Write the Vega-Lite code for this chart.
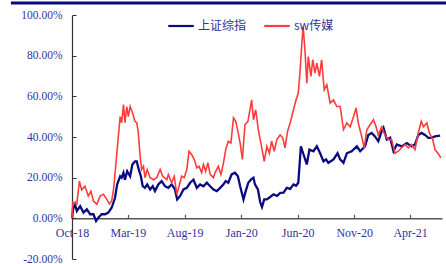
{
  "$schema": "https://vega.github.io/schema/vega-lite/v6.json",
  "width": 370,
  "height": 244,
  "autosize": {"type": "none"},
  "padding": {"left": 72, "top": 15, "right": 4, "bottom": 5},
  "background": "white",
  "config": {"view": {"stroke": null}},
  "layer": [
    {
      "data": {"values": [{}]},
      "mark": {"type": "rule", "color": "#0A0A80", "strokeWidth": 3, "clip": false},
      "encoding": {
        "x": {"datum": {"year": 2018, "month": 4, "date": 19}, "type": "temporal", "scale": {"domain": [{"year": 2018, "month": 10, "date": 1}, {"year": 2021, "month": 6, "date": 26}]}},
        "x2": {"datum": {"year": 2021, "month": 7, "date": 8}},
        "y": {"datum": 105.9, "type": "quantitative", "scale": {"domain": [-20, 100], "nice": false}}
      }
    },
    {
      "data": {
        "values": [
          {"date":"2018-10-01","value":0},{"date":"2018-10-04","value":4.5},{"date":"2018-10-09","value":6.9},{"date":"2018-10-14","value":3.6},{"date":"2018-10-23","value":6.0},{"date":"2018-11-01","value":2.8},{"date":"2018-11-10","value":4.4},{"date":"2018-11-19","value":2.0},{"date":"2018-11-28","value":2.0},{"date":"2018-12-05","value":-1.3},{"date":"2018-12-11","value":0.3},{"date":"2018-12-20","value":2.0},{"date":"2018-12-29","value":2.0},
          {"date":"2019-01-07","value":2.8},{"date":"2019-01-16","value":5.2},{"date":"2019-01-25","value":10},{"date":"2019-01-31","value":16.7},{"date":"2019-02-08","value":20.7},{"date":"2019-02-12","value":20},{"date":"2019-02-17","value":22.4},{"date":"2019-02-21","value":19},{"date":"2019-02-27","value":23.2},{"date":"2019-03-07","value":20.7},{"date":"2019-03-13","value":26.5},{"date":"2019-03-20","value":28},{"date":"2019-03-25","value":28},{"date":"2019-03-29","value":24.8},{"date":"2019-04-05","value":20.7},{"date":"2019-04-10","value":15.8},{"date":"2019-04-16","value":15},{"date":"2019-04-22","value":16.7},{"date":"2019-04-30","value":14.2},{"date":"2019-05-07","value":15.8},{"date":"2019-05-13","value":13.4},{"date":"2019-05-22","value":16.7},{"date":"2019-05-31","value":18.3},{"date":"2019-06-09","value":15.8},{"date":"2019-06-18","value":15},{"date":"2019-06-27","value":16.7},{"date":"2019-07-06","value":14.2},{"date":"2019-07-12","value":9.3},{"date":"2019-07-20","value":11},{"date":"2019-07-29","value":14.2},{"date":"2019-08-07","value":15},{"date":"2019-08-16","value":17.5},{"date":"2019-08-25","value":19},{"date":"2019-09-03","value":15},{"date":"2019-09-12","value":16.7},{"date":"2019-09-21","value":15.8},{"date":"2019-09-30","value":17.5},{"date":"2019-10-09","value":15.8},{"date":"2019-10-18","value":14.2},{"date":"2019-10-27","value":13.4},{"date":"2019-11-05","value":15},{"date":"2019-11-14","value":16.7},{"date":"2019-11-20","value":18.3},{"date":"2019-11-27","value":17.5},{"date":"2019-12-06","value":21.6},{"date":"2019-12-15","value":22.4},{"date":"2019-12-23","value":20.7},{"date":"2019-12-29","value":15.8},
          {"date":"2020-01-07","value":9.3},{"date":"2020-01-13","value":13.4},{"date":"2020-01-20","value":17.5},{"date":"2020-01-27","value":19},{"date":"2020-02-03","value":20},{"date":"2020-02-07","value":16.7},{"date":"2020-02-15","value":14.2},{"date":"2020-02-21","value":8},{"date":"2020-02-26","value":5.5},{"date":"2020-03-03","value":9.3},{"date":"2020-03-10","value":9.3},{"date":"2020-03-19","value":10.5},{"date":"2020-03-28","value":11.8},{"date":"2020-04-07","value":11},{"date":"2020-04-15","value":12.5},{"date":"2020-04-24","value":12.6},{"date":"2020-05-03","value":15},{"date":"2020-05-12","value":14.5},{"date":"2020-05-21","value":16.7},{"date":"2020-05-28","value":16},{"date":"2020-06-03","value":17.5},{"date":"2020-06-10","value":35.4},{"date":"2020-06-16","value":32},{"date":"2020-06-26","value":26.5},{"date":"2020-07-03","value":33.8},{"date":"2020-07-14","value":33},{"date":"2020-07-23","value":35.4},{"date":"2020-08-01","value":32},{"date":"2020-08-10","value":28},{"date":"2020-08-17","value":29},{"date":"2020-08-23","value":27.3},{"date":"2020-09-06","value":29},{"date":"2020-09-17","value":32},{"date":"2020-09-24","value":29},{"date":"2020-10-03","value":27.3},{"date":"2020-10-12","value":32},{"date":"2020-10-25","value":33},{"date":"2020-11-08","value":35.4},{"date":"2020-11-17","value":33},{"date":"2020-11-30","value":35.4},{"date":"2020-12-09","value":41},{"date":"2020-12-18","value":42},{"date":"2020-12-27","value":40.3},
          {"date":"2021-01-05","value":37.9},{"date":"2021-01-14","value":42.8},{"date":"2021-01-19","value":44.5},{"date":"2021-01-28","value":38.7},{"date":"2021-02-06","value":39.6},{"date":"2021-02-15","value":33},{"date":"2021-02-24","value":36.3},{"date":"2021-03-09","value":35.4},{"date":"2021-03-23","value":37},{"date":"2021-04-05","value":35.4},{"date":"2021-04-14","value":36.3},{"date":"2021-04-23","value":41},{"date":"2021-05-02","value":42},{"date":"2021-05-11","value":41},{"date":"2021-05-20","value":39.6},{"date":"2021-05-29","value":39.6},{"date":"2021-06-07","value":40.3},{"date":"2021-06-21","value":40.7}
        ],
        "format": {"parse": {"date": "date:'%Y-%m-%d'"}}
      },
      "mark": {"type": "line", "strokeWidth": 2.3, "interpolate": "linear"},
      "encoding": {
        "x": {
          "field": "date", "type": "temporal",
          "scale": {"domain": [{"year": 2018, "month": 10, "date": 1}, {"year": 2021, "month": 6, "date": 26}]},
          "axis": {
            "title": null, "grid": false, "offset": -40.67,
            "values": [{"year": 2018, "month": 10, "date": 1}, {"year": 2019, "month": 3, "date": 1}, {"year": 2019, "month": 8, "date": 1}, {"year": 2020, "month": 1, "date": 1}, {"year": 2020, "month": 6, "date": 1}, {"year": 2020, "month": 11, "date": 1}, {"year": 2021, "month": 4, "date": 1}],
            "format": "%b-%y", "labelFlush": false, "labelOverlap": false,
            "domainColor": "#555555", "domainWidth": 1.5, "tickColor": "#555555", "tickSize": -4, "tickWidth": 1.2,
            "labelColor": "#333399", "labelFont": "Liberation Serif", "labelFontSize": 12, "labelPadding": 13
          }
        },
        "y": {
          "field": "value", "type": "quantitative",
          "scale": {"domain": [-20, 100], "nice": false},
          "axis": {
            "title": null, "grid": false,
            "values": [-20, 0, 20, 40, 60, 80, 100],
            "labelExpr": "replace(format(datum.value, '.2f'), '\u2212', '-') + '%'",
            "domainColor": "#333333", "domainWidth": 1.2, "tickColor": "#333333", "tickSize": -4,
            "labelColor": "#333399", "labelFont": "Liberation Serif", "labelFontSize": 11.5, "labelPadding": 14
          }
        },
        "color": {
          "datum": "上证综指",
          "scale": {"domain": ["上证综指", "sw传媒"], "range": ["#0B0B80", "#FF3B3B"]},
          "legend": {
            "title": null, "orient": "none", "direction": "horizontal", "legendX": 95, "legendY": -3,
            "symbolType": "stroke", "symbolSize": 650, "symbolStrokeWidth": 2.2,
            "labelFont": "Noto Sans CJK SC", "labelFontSize": 12, "labelColor": "#333399", "labelOffset": 3,
            "columnPadding": 12, "padding": 0
          }
        }
      }
    },
    {
      "data": {
        "values": [
          {"date":"2018-10-01","value":0},{"date":"2018-10-03","value":7.8},{"date":"2018-10-14","value":7},{"date":"2018-10-21","value":18.3},{"date":"2018-10-27","value":14},{"date":"2018-11-05","value":15.8},{"date":"2018-11-14","value":11},{"date":"2018-11-21","value":13.4},{"date":"2018-11-28","value":8.5},{"date":"2018-12-07","value":6.9},{"date":"2018-12-16","value":11},{"date":"2018-12-25","value":11.8},
          {"date":"2019-01-03","value":9.3},{"date":"2019-01-10","value":7},{"date":"2019-01-16","value":8.5},{"date":"2019-01-21","value":14},{"date":"2019-01-27","value":25.6},{"date":"2019-02-03","value":40},{"date":"2019-02-08","value":50},{"date":"2019-02-12","value":47},{"date":"2019-02-17","value":55.9},{"date":"2019-02-21","value":47},{"date":"2019-02-26","value":55},{"date":"2019-03-02","value":50},{"date":"2019-03-07","value":55},{"date":"2019-03-13","value":52},{"date":"2019-03-20","value":47.7},{"date":"2019-03-25","value":47},{"date":"2019-03-29","value":42},{"date":"2019-04-03","value":30.5},{"date":"2019-04-07","value":24},{"date":"2019-04-12","value":25.6},{"date":"2019-04-16","value":20},{"date":"2019-04-22","value":24},{"date":"2019-04-30","value":20},{"date":"2019-05-09","value":19},{"date":"2019-05-18","value":20},{"date":"2019-05-27","value":24},{"date":"2019-06-03","value":20.7},{"date":"2019-06-14","value":19},{"date":"2019-06-18","value":21.6},{"date":"2019-06-27","value":17.5},{"date":"2019-07-04","value":20.7},{"date":"2019-07-11","value":11.8},{"date":"2019-07-17","value":15.8},{"date":"2019-07-24","value":20.7},{"date":"2019-07-31","value":20},{"date":"2019-08-07","value":24},{"date":"2019-08-13","value":33},{"date":"2019-08-20","value":31.4},{"date":"2019-08-27","value":29},{"date":"2019-09-03","value":24.8},{"date":"2019-09-09","value":25.6},{"date":"2019-09-16","value":22.4},{"date":"2019-09-21","value":26.5},{"date":"2019-09-27","value":23.2},{"date":"2019-10-03","value":27.3},{"date":"2019-10-09","value":21.6},{"date":"2019-10-18","value":20},{"date":"2019-10-22","value":22.4},{"date":"2019-10-31","value":25.6},{"date":"2019-11-07","value":21.6},{"date":"2019-11-14","value":27.3},{"date":"2019-11-20","value":33.8},{"date":"2019-11-27","value":37.9},{"date":"2019-12-04","value":37},{"date":"2019-12-11","value":49.4},{"date":"2019-12-17","value":47.7},{"date":"2019-12-23","value":42.8},{"date":"2019-12-29","value":37},
          {"date":"2020-01-04","value":29},{"date":"2020-01-11","value":46},{"date":"2020-01-19","value":47.7},{"date":"2020-01-25","value":54},{"date":"2020-01-29","value":58.3},{"date":"2020-02-03","value":48.5},{"date":"2020-02-09","value":53.4},{"date":"2020-02-16","value":43.6},{"date":"2020-02-25","value":35},{"date":"2020-03-03","value":28},{"date":"2020-03-10","value":35.4},{"date":"2020-03-17","value":32},{"date":"2020-03-23","value":37.9},{"date":"2020-03-30","value":33},{"date":"2020-04-06","value":38.7},{"date":"2020-04-15","value":41},{"date":"2020-04-22","value":39.6},{"date":"2020-04-28","value":34.7},{"date":"2020-05-05","value":42.8},{"date":"2020-05-12","value":46.9},{"date":"2020-05-21","value":53.4},{"date":"2020-05-28","value":58.3},{"date":"2020-06-03","value":61.6},{"date":"2020-06-08","value":73},{"date":"2020-06-12","value":84.5},{"date":"2020-06-16","value":94.3},{"date":"2020-06-21","value":82.8},{"date":"2020-06-26","value":66.5},{"date":"2020-06-30","value":79.6},{"date":"2020-07-07","value":69.8},{"date":"2020-07-12","value":78},{"date":"2020-07-18","value":71.4},{"date":"2020-07-23","value":76.3},{"date":"2020-07-30","value":69.8},{"date":"2020-08-05","value":78},{"date":"2020-08-12","value":63.2},{"date":"2020-08-19","value":65.7},{"date":"2020-08-28","value":56.7},{"date":"2020-09-06","value":58.3},{"date":"2020-09-15","value":55},{"date":"2020-09-24","value":55},{"date":"2020-10-03","value":43.6},{"date":"2020-10-12","value":46.9},{"date":"2020-10-21","value":45},{"date":"2020-10-30","value":50},{"date":"2020-11-06","value":54.3},{"date":"2020-11-12","value":46.9},{"date":"2020-11-21","value":40.3},{"date":"2020-11-28","value":34.7},{"date":"2020-12-05","value":43.6},{"date":"2020-12-14","value":46},{"date":"2020-12-23","value":48.5},{"date":"2020-12-30","value":45},
          {"date":"2021-01-05","value":41},{"date":"2021-01-14","value":45},{"date":"2021-01-23","value":41},{"date":"2021-02-01","value":38.7},{"date":"2021-02-10","value":38.7},{"date":"2021-02-19","value":32},{"date":"2021-02-28","value":33},{"date":"2021-03-09","value":34.7},{"date":"2021-03-18","value":36.3},{"date":"2021-03-27","value":34.7},{"date":"2021-04-05","value":36.3},{"date":"2021-04-14","value":33.8},{"date":"2021-04-23","value":42},{"date":"2021-05-01","value":47.7},{"date":"2021-05-07","value":45},{"date":"2021-05-16","value":46.9},{"date":"2021-05-23","value":42},{"date":"2021-06-01","value":38.7},{"date":"2021-06-07","value":33.8},{"date":"2021-06-15","value":32},{"date":"2021-06-23","value":29.7}
        ],
        "format": {"parse": {"date": "date:'%Y-%m-%d'"}}
      },
      "mark": {"type": "line", "strokeWidth": 1.6, "interpolate": "linear"},
      "encoding": {
        "x": {"field": "date", "type": "temporal"},
        "y": {"field": "value", "type": "quantitative"},
        "color": {"datum": "sw传媒"}
      }
    }
  ]
}
